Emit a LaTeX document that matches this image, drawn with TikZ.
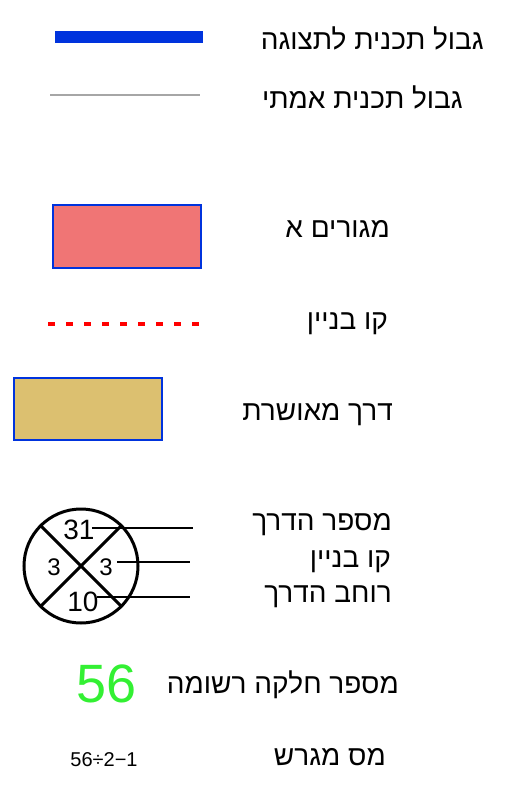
\documentclass[tikz,border=0pt]{standalone}
\usepackage{fontspec}
\setmainfont{Liberation Sans}
\newfontfamily\heb[Script=Hebrew]{Liberation Sans}
\TeXXeTstate=1
\definecolor{bblue}{HTML}{0033DD}
\definecolor{rfill}{HTML}{F07575}
\definecolor{tfill}{HTML}{DCC070}
\definecolor{lgreen}{HTML}{33F033}
\tikzset{
  lbl/.style={anchor=east,inner sep=0pt,font=\heb\fontsize{28}{32}\selectfont},
  num/.style={inner sep=0pt,font=\fontsize{28}{32}\selectfont},
  sml/.style={inner sep=0pt,font=\fontsize{24}{28}\selectfont},
  lead/.style={line width=1.5pt},
}
\begin{document}
\begin{tikzpicture}[x=1pt,y=-1pt]
\useasboundingbox (0,0) rectangle (512,788);
% legend row 1
\coordinate (b1) at (55,37); \coordinate (b2) at (203,37);
\draw[bblue,line width=12pt] (b1) -- (b2);
\node[lbl] (t1) at (484,38) {\beginR גבול תכנית לתצוגה\endR};
% row 2
\coordinate (g1) at (50,95); \coordinate (g2) at (200,95);
\draw[gray!70,line width=1.2pt] (g1) -- (g2);
\node[lbl] (t2) at (463,97) {\beginR גבול תכנית אמתי\endR};
% row 3
\node[draw=bblue,line width=1.5pt,fill=rfill,minimum width=148pt,minimum height=63pt,inner sep=0pt] (r1) at (127,236.5) {};
\node[lbl] (t3) at (390,229) {\beginR מגורים א\endR};
% row 4
\coordinate (d1) at (48,324); \coordinate (d2) at (200,324);
\draw[red,line width=4pt,dash pattern=on 7pt off 11pt] (d1) -- (d2);
\node[lbl] (t4) at (388,324) {\beginR קו בניין\endR};
% row 5
\node[draw=bblue,line width=1.5pt,fill=tfill,minimum width=148pt,minimum height=62pt,inner sep=0pt] (r2) at (88,409) {};
\node[lbl] (t5) at (393,415) {\beginR דרך מאושרת\endR};
% circle
\node[circle,draw,line width=3pt,minimum size=114pt,inner sep=0pt] (c) at (81,566) {};
\draw[line width=3pt] (c.north west) -- (c.south east);
\draw[line width=3pt] (c.north east) -- (c.south west);
\node[num] (n1) at (79,530) {31};
\node[sml] (n2) at (54,567) {3};
\node[sml] (n3) at (106,567) {3};
\node[num] (n4) at (83,602) {10};
\coordinate (e1) at (193,528); \coordinate (e2) at (190,562); \coordinate (e3) at (190,597);
\draw[lead] (n1.east) ++(-3,-2) -- (e1);
\draw[lead] (117,562) -- (e2);
\draw[lead] (n4.east) ++(-2,-5) -- (e3);
\node[lbl] (t6) at (392,525) {\beginR מספר הדרך\endR};
\node[lbl] (t7) at (391,562) {\beginR קו בניין\endR};
\node[lbl] (t8) at (392,597) {\beginR רוחב הדרך\endR};
% parcel
\node[inner sep=0pt,text=lgreen,font=\fontsize{54}{58}\selectfont] (p) at (107,684) {56};
\node[lbl] (t9) at (399,685) {\beginR מספר חלקה רשומה\endR};
% lot
\node[inner sep=0pt,font=\fontsize{20}{22}\selectfont] (m) at (104,760) {56÷2−1};
\node[lbl] (t10) at (386,757) {\beginR מס מגרש\endR};
\end{tikzpicture}
\end{document}
